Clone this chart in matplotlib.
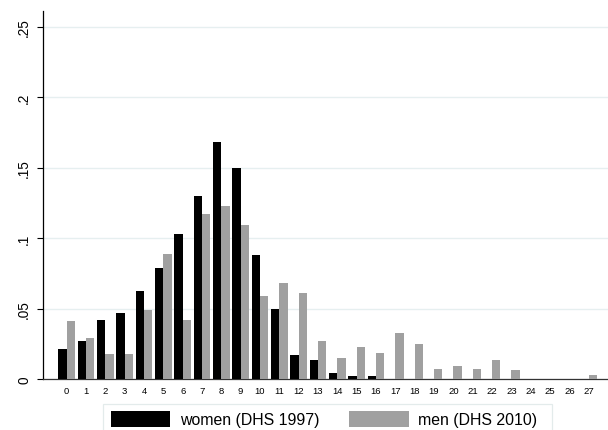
import numpy as np
import matplotlib
matplotlib.use("Agg")
import matplotlib.pyplot as plt
from matplotlib.patches import Rectangle

# share of respondents by category
categories = list(range(28))
women_1997 = [0.021, 0.027, 0.042, 0.047, 0.0625, 0.079, 0.103, 0.130, 0.168, 0.150,
              0.088, 0.050, 0.017, 0.0134, 0.004, 0.0023, 0.0018, 0, 0, 0,
              0, 0, 0, 0, 0, 0, 0, 0]
men_2010 = [0.041, 0.029, 0.0174, 0.0174, 0.0487, 0.089, 0.042, 0.1168, 0.1225, 0.109,
            0.0587, 0.068, 0.0608, 0.0269, 0.0146, 0.0229, 0.0186, 0.0324, 0.0245, 0.0068,
            0.0091, 0.0068, 0.0132, 0.0063, 0, 0, 0, 0.0025]
yticks = [0, 0.05, 0.1, 0.15, 0.2, 0.25]
ylabels = ["0", ".05", ".1", ".15", ".2", ".25"]

plt.rcParams['font.family'] = ['Liberation Sans', 'DejaVu Sans']

W, H = 608, 431
fig = plt.figure(figsize=(W/100, H/100), dpi=100)
ax = fig.add_axes([42.7/W, 1-380/H, 1-42.7/W, (380-12)/H])

x = np.array(categories)
w = 0.43
ax.bar(x - w/2, women_1997, width=w, color="black", label="women (DHS 1997)", zorder=3)
ax.bar(x + w/2, men_2010, width=w, color="#a0a0a0", label="men (DHS 2010)", zorder=3)

ax.set_xlim(-1.24, 28.0)
ax.set_ylim(0, 0.261)
ax.set_xticks(x)
ax.set_xticklabels([str(c) for c in categories], fontsize=6.8)
ax.tick_params(axis="x", length=0, pad=5)
ax.set_yticks(yticks)
ax.set_yticklabels(ylabels, rotation=90, va="center", fontsize=9.8)
ax.tick_params(axis="y", length=4.3, width=0.8, pad=4)

ax.yaxis.grid(True, color="#e6eff0", linewidth=1.0, zorder=0)
ax.set_axisbelow(True)
for s in ["top", "right"]:
    ax.spines[s].set_visible(False)
ax.spines["left"].set_linewidth(0.9)
ax.spines["bottom"].set_linewidth(0.9)
ax.spines["bottom"].set_color("#333333")

# legend box runs off the bottom of the figure, as in the original
fig.patches.append(Rectangle((103.3/W, -0.1), (552.3-103.3)/W, 1-405/H + 0.1,
                             transform=fig.transFigure, fill=False,
                             edgecolor="#e3ebeb", linewidth=0.9))
leg = fig.legend(loc="upper left", bbox_to_anchor=(110.7/W, 1-411.5/H),
                 ncol=2, fontsize=11.4, frameon=False,
                 handlelength=3.77, handleheight=1.2, handletextpad=0.58,
                 columnspacing=1.89, borderpad=0, borderaxespad=0)

fig.savefig("out.png", dpi=100)
